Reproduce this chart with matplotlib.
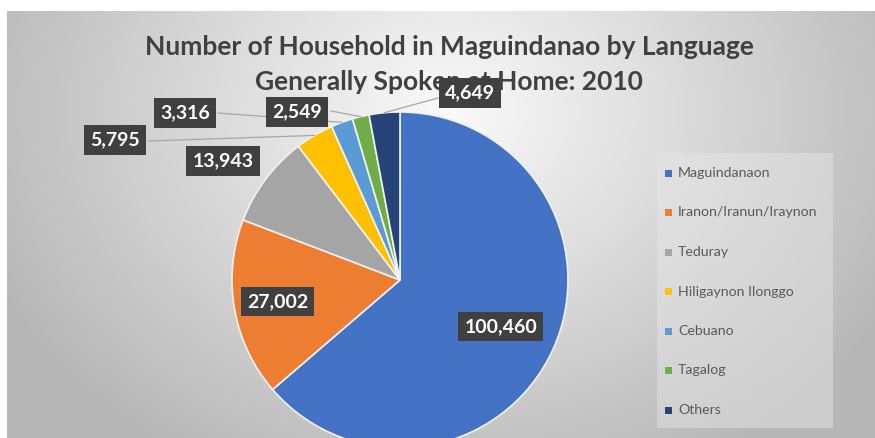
import numpy as np
import matplotlib.pyplot as plt
from matplotlib.patches import Rectangle

# households by language generally spoken at home, Maguindanao 2010
languages = ['Maguindanaon', 'Iranon/Iranun/Iraynon', 'Teduray', 'Hiligaynon Ilonggo',
             'Cebuano', 'Tagalog', 'Others']
households = [100460, 27002, 13943, 5795, 3316, 2549, 4649]
colors = ['#4472C4', '#ED7D31', '#A5A5A5', '#FFC000', '#5B9BD5', '#70AD47', '#264478']

W, H = 875, 438
plt.rcParams['font.family'] = ['Lato', 'DejaVu Sans']

fig = plt.figure(figsize=(W / 100, H / 100), dpi=100)
fig.patch.set_facecolor('white')
ax = fig.add_axes([0, 0, 1, 1])

# radial grey background of the chart area
xx, yy = np.meshgrid(np.arange(W), np.arange(H))
d = np.sqrt(((xx - 450) / 520.0) ** 2 + ((yy - 110) / 420.0) ** 2)
shade = np.clip(0.98 - 0.27 * d, 0.72, 0.98)
bg = np.dstack([shade, shade, shade])
bg[:11, :] = 1.0
bg[:, :7] = 1.0
ax.imshow(bg, extent=(0, W, 0, H), origin='upper', zorder=0)

# pie in pixel units, y measured upward
cx, cy, R = 400, H - 280, 168
wedges, _ = ax.pie(households, colors=colors, startangle=90, counterclock=False,
                   center=(cx, cy), radius=R,
                   wedgeprops=dict(edgecolor='#f2f2f2', linewidth=1.2))
for w in wedges:
    w.set_zorder(2)

ax.set_xlim(0, W)
ax.set_ylim(0, H)
ax.set_aspect('equal')
ax.axis('off')

# title sits under the data labels
ax.text(449, H - 47, 'Number of Household in Maguindanao by Language',
        ha='center', va='center', fontsize=19, fontweight='bold', color='#404040', zorder=1)
ax.text(449, H - 82, 'Generally Spoken at Home: 2010',
        ha='center', va='center', fontsize=19, fontweight='bold', color='#404040', zorder=1)

box = dict(boxstyle='square,pad=0.32', facecolor='#404040', edgecolor='none')


def edge_point(i, frac=1.0):
    w = wedges[i]
    ang = np.deg2rad((w.theta1 + w.theta2) / 2)
    return cx + frac * R * np.cos(ang), cy + frac * R * np.sin(ang)


def label(i, x, y, line_from=None):
    txt = f'{households[i]:,}'
    ax.text(x, H - y, txt, color='white', fontsize=14, fontweight='bold',
            ha='center', va='center', bbox=box, zorder=5)
    if line_from is not None:
        px, py = edge_point(i, 1.0)
        ax.plot([line_from[0], px], [H - line_from[1], py], color='#a6a6a6',
                linewidth=0.9, zorder=3)


# labels inside the big slices
for i, frac in [(0, 0.66), (1, 0.74)]:
    x, y = edge_point(i, frac)
    ax.text(x, y, f'{households[i]:,}', color='white', fontsize=14, fontweight='bold',
            ha='center', va='center', bbox=box, zorder=5)

# labels outside with leader lines
label(2, 223, 161)
label(3, 115, 140, line_from=(149, 141))
label(4, 185, 113, line_from=(218, 113))
label(5, 297, 112, line_from=(331, 111))
label(6, 470, 93, line_from=(438, 98))

# legend panel
ax.add_patch(Rectangle((657, H - 428), 176, 275, facecolor='#e8e8e8', edgecolor='none',
                       alpha=0.45, zorder=1))
for k, (name, c) in enumerate(zip(languages, colors)):
    y = 173 + k * 39.5
    ax.add_patch(Rectangle((665, H - y - 3.5), 7, 7, facecolor=c, edgecolor='none', zorder=4))
    ax.text(678, H - y, name, fontsize=10.2, color='#595959', va='center', ha='left', zorder=4)

fig.savefig('out.png', dpi=100)
